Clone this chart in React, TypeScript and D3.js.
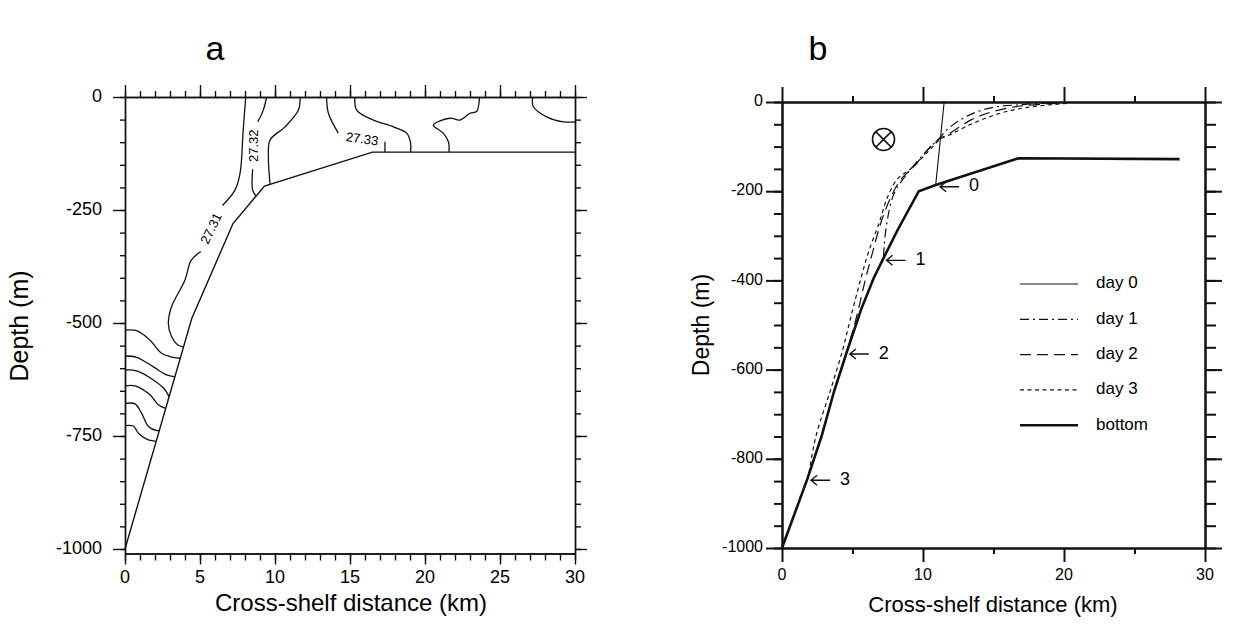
import React, { useEffect, useRef } from 'react'
import * as d3 from 'd3'

// ---- panel a: density section ----
const xTicksA = [0, 5, 10, 15, 20, 25, 30]
const yTicksA = [0, -250, -500, -750, -1000]
const bathyA: [number, number][] = [[0, -1000], [4.45, -490], [7.2, -280], [9.3, -197], [16.5, -122], [30, -122]]

// contour lines (x km, depth m), broken where a label sits
const contoursA: [number, number][][] = [
  [[8.05, 0], [7.88, -73], [7.67, -169], [7.33, -206], [6.5, -240]],
  [[5.05, -342], [4.4, -362], [4.0, -405], [3.1, -464], [2.89, -501], [3.1, -530], [3.5, -548], [3.9, -553]],
  [[9.44, 0], [9.22, -29], [8.85, -55]],
  [[8.51, -160], [8.51, -206], [8.73, -219]],
  [[11.67, 0], [11.56, -29], [10.67, -66], [9.67, -95], [9.56, -132], [9.67, -193]],
  [[13.44, 0], [13.56, -36], [14.22, -80]],
  [[17.33, -99], [17.33, -122]],
  [[15.33, 0], [15.44, -29], [16.56, -51], [17.89, -66], [18.78, -80], [19.04, -102], [19.04, -122]],
  [[21.6, -122], [21.56, -99], [21.22, -80], [20.56, -62], [21.67, -47], [22.33, -51], [23, -36], [23.44, -32], [23.62, -7], [23.62, 0]],
  [[27.18, 0], [27.22, -21], [28.11, -44], [29.22, -55], [30, -55]],
  [[0, -516], [0.78, -517], [1.67, -538], [2.44, -567], [3.22, -576], [3.68, -578]],
  [[0, -573], [0.78, -576], [1.89, -597], [2.78, -615], [3.32, -619]],
  [[0, -604], [0.78, -606], [1.89, -626], [2.6, -645], [2.94, -663]],
  [[0, -639], [0.67, -639], [1.67, -659], [2.22, -681], [2.71, -689]],
  [[0, -678], [0.67, -679], [1.11, -700], [1.56, -729], [2.11, -738], [2.29, -738]],
  [[0, -727], [0.56, -728], [0.89, -744], [1.44, -757], [2.08, -762]],
]
const contourLabels = [
  { text: '27.31', x: 5.8, d: -292, angle: -64 },
  { text: '27.32', x: 8.62, d: -108, angle: -90 },
  { text: '27.33', x: 15.8, d: -95, angle: 8 },
]

// ---- panel b: front positions ----
const xTicksB = [0, 10, 20, 30]
const yTicksB = [0, -200, -400, -600, -800, -1000]
const bottomB: [number, number][] = [[0, -1000], [1.8, -845], [2.8, -750], [3.7, -648], [4.6, -560], [5.6, -466], [6.5, -395], [7.2, -350], [8.2, -287], [9.7, -200], [10.9, -186], [16.8, -126], [28.2, -128]]
const day0: [number, number][] = [[11.5, 0], [10.9, -186]]
const day1: [number, number][] = [[19, -2], [16.9, -6], [14.8, -13], [13.1, -32], [11.7, -62], [11.2, -80], [10.3, -108], [8.9, -160], [7.95, -205], [7.5, -260], [7.25, -320], [7.2, -350]]
const day2: [number, number][] = [[19.5, -3], [16.9, -9], [15, -21], [13.4, -40], [12, -68], [11.2, -82], [10.6, -98], [9.4, -143], [8.4, -175], [7.7, -215], [7.0, -272], [6.4, -340], [5.9, -400], [5.3, -480], [4.6, -560]]
const day3: [number, number][] = [[20.2, -3], [17.4, -12], [15.5, -25], [13.6, -47], [12, -72], [11.2, -84], [10.4, -110], [9.2, -148], [8.2, -172], [7.5, -212], [6.9, -270], [6.1, -340], [5.5, -407], [4.9, -480], [4.3, -556], [3.4, -650], [2.4, -750], [1.85, -845]]
const arrowsB = [
  { label: '0', x: 11.0, d: -190 },
  { label: '1', x: 7.2, d: -355 },
  { label: '2', x: 4.6, d: -565 },
  { label: '3', x: 1.85, d: -848 },
]
const legendB = [
  { name: 'day 0', dash: null, width: 1.2 },
  { name: 'day 1', dash: '9,4,2,4', width: 1.2 },
  { name: 'day 2', dash: '11,6', width: 1.2 },
  { name: 'day 3', dash: '4,3.5', width: 1.2 },
  { name: 'bottom', dash: null, width: 2.6 },
]
const circleB = { x: 7.2, d: -84 }

const fontA = 'Liberation Sans, Arial, Helvetica, sans-serif'
const fontB = 'Liberation Sans Narrow, Liberation Sans, Arial, sans-serif'

export default function App() {
  const ref = useRef<SVGSVGElement>(null)

  useEffect(() => {
    const svg = d3.select(ref.current)
    svg.selectAll('*').remove()
    drawPanelA(svg)
    drawPanelB(svg)
  }, [])

  return (
    <svg ref={ref} width={1250} height={639} style={{ position: 'absolute', left: 0, top: 0, background: '#fff' }} />
  )
}

function drawPanelA(svg: any) {
  const x = d3.scaleLinear().domain([0, 30]).range([125, 575])
  const y = d3.scaleLinear().domain([0, -1010]).range([97, 553.5])
  const g = svg.append('g').attr('font-family', fontA)

  // minor + major ticks on all four sides
  const axes = [
    { ax: d3.axisTop(x).tickValues(d3.range(0, 31, 1)).tickSize(6), t: `translate(0,${y(0)})` },
    { ax: d3.axisTop(x).tickValues(xTicksA).tickSize(12), t: `translate(0,${y(0)})` },
    { ax: d3.axisBottom(x).tickValues(d3.range(0, 31, 1)).tickSize(7), t: `translate(0,${y(-1010)})` },
    { ax: d3.axisBottom(x).tickValues(xTicksA).tickSize(11), t: `translate(0,${y(-1010)})` },
    { ax: d3.axisLeft(y).tickValues(d3.range(0, -1001, -50)).tickSize(5), t: `translate(${x(0)},0)` },
    { ax: d3.axisLeft(y).tickValues(yTicksA).tickSize(12), t: `translate(${x(0)},0)` },
    { ax: d3.axisRight(y).tickValues(d3.range(0, -1001, -50)).tickSize(6), t: `translate(${x(30)},0)` },
    { ax: d3.axisRight(y).tickValues(yTicksA).tickSize(12), t: `translate(${x(30)},0)` },
  ]
  axes.forEach(a => {
    const ag = g.append('g').attr('transform', a.t).call(a.ax.tickSizeOuter(0).tickFormat(() => ''))
    ag.selectAll('path,line').attr('stroke', '#111').attr('stroke-width', 1.4)
  })

  // tick labels
  g.selectAll('.xl').data(xTicksA).enter().append('text')
    .attr('x', (d: number) => x(d)).attr('y', 578)
    .attr('text-anchor', 'middle').attr('dominant-baseline', 'middle')
    .attr('font-size', 18).text((d: number) => d)
  g.selectAll('.yl').data(yTicksA).enter().append('text')
    .attr('x', 102).attr('y', (d: number) => y(d))
    .attr('text-anchor', 'end').attr('dominant-baseline', 'middle')
    .attr('font-size', 18).text((d: number) => d)

  const line = d3.line<[number, number]>().x(d => x(d[0])).y(d => y(d[1])).curve(d3.curveCatmullRom.alpha(0.5))
  const straight = d3.line<[number, number]>().x(d => x(d[0])).y(d => y(d[1]))

  g.append('path').attr('d', straight(bathyA)).attr('fill', 'none').attr('stroke', '#111').attr('stroke-width', 1.4)

  g.selectAll('.ct').data(contoursA).enter().append('path')
    .attr('d', (d: [number, number][]) => line(d))
    .attr('fill', 'none').attr('stroke', '#111').attr('stroke-width', 1.3)

  g.selectAll('.cl').data(contourLabels).enter().append('text')
    .attr('transform', (d: any) => `translate(${x(d.x)},${y(d.d)}) rotate(${d.angle})`)
    .attr('text-anchor', 'middle').attr('dominant-baseline', 'middle')
    .attr('font-size', 13).text((d: any) => d.text)

  // titles
  g.append('text').attr('x', 215).attr('y', 60).attr('text-anchor', 'middle')
    .attr('font-size', 34).text('a')
  g.append('text').attr('x', 351).attr('y', 611).attr('text-anchor', 'middle')
    .attr('font-size', 24).text('Cross-shelf distance (km)')
  g.append('text').attr('transform', 'translate(21,326) rotate(-90)').attr('text-anchor', 'middle')
    .attr('dominant-baseline', 'middle').attr('font-size', 25).text('Depth (m)')
}

function drawPanelB(svg: any) {
  const x = d3.scaleLinear().domain([0, 30]).range([782, 1205])
  const y = d3.scaleLinear().domain([0, -1000]).range([102, 548])
  const g = svg.append('g').attr('font-family', fontB)

  const axes = [
    { ax: d3.axisTop(x).tickValues([5, 15, 25]).tickSize(6), t: `translate(0,${y(0)})` },
    { ax: d3.axisTop(x).tickValues(xTicksB).tickSize(15), t: `translate(0,${y(0)})` },
    { ax: d3.axisBottom(x).tickValues([5, 15, 25]).tickSize(6), t: `translate(0,${y(-1000)})` },
    { ax: d3.axisBottom(x).tickValues(xTicksB).tickSize(14), t: `translate(0,${y(-1000)})` },
    { ax: d3.axisLeft(y).tickValues(d3.range(0, -1001, -50)).tickSize(8), t: `translate(${x(0)},0)` },
    { ax: d3.axisLeft(y).tickValues(yTicksB).tickSize(16), t: `translate(${x(0)},0)` },
    { ax: d3.axisRight(y).tickValues(d3.range(0, -1001, -50)).tickSize(11), t: `translate(${x(30)},0)` },
    { ax: d3.axisRight(y).tickValues(yTicksB).tickSize(17), t: `translate(${x(30)},0)` },
  ]
  axes.forEach(a => {
    const ag = g.append('g').attr('transform', a.t).call(a.ax.tickSizeOuter(0).tickFormat(() => ''))
    ag.selectAll('path,line').attr('stroke', '#111').attr('stroke-width', 2)
  })

  g.selectAll('.xl').data(xTicksB).enter().append('text')
    .attr('x', (d: number) => x(d)).attr('y', 576)
    .attr('text-anchor', 'middle').attr('dominant-baseline', 'middle')
    .attr('font-size', 16).text((d: number) => d)
  g.selectAll('.yl').data(yTicksB).enter().append('text')
    .attr('x', 763).attr('y', (d: number) => y(d))
    .attr('text-anchor', 'end').attr('dominant-baseline', 'middle')
    .attr('font-size', 16).text((d: number) => d)

  const straight = d3.line<[number, number]>().x(d => x(d[0])).y(d => y(d[1]))
  const smooth = d3.line<[number, number]>().x(d => x(d[0])).y(d => y(d[1])).curve(d3.curveCatmullRom.alpha(0.5))

  g.append('path').attr('d', straight(bottomB)).attr('fill', 'none').attr('stroke', '#111').attr('stroke-width', 2.6)
  g.append('path').attr('d', straight(day0)).attr('fill', 'none').attr('stroke', '#111').attr('stroke-width', 1.1)
  const fronts: [[number, number][], string][] = [[day1, '9,4,2,4'], [day2, '11,6'], [day3, '4,3.5']]
  fronts.forEach(([pts, dash]) => {
    g.append('path').attr('d', smooth(pts)).attr('fill', 'none').attr('stroke', '#111')
      .attr('stroke-width', 1.2).attr('stroke-dasharray', dash)
  })

  // into-page flow symbol
  const cx = x(circleB.x), cy = y(circleB.d), r = 11
  g.append('circle').attr('cx', cx).attr('cy', cy).attr('r', r).attr('fill', 'none').attr('stroke', '#111').attr('stroke-width', 1.6)
  const k = r * Math.SQRT1_2
  g.append('path').attr('d', `M${cx - k},${cy - k}L${cx + k},${cy + k}M${cx - k},${cy + k}L${cx + k},${cy - k}`)
    .attr('stroke', '#111').attr('stroke-width', 1.6)

  // arrows pointing at where each front meets the bottom
  arrowsB.forEach(a => {
    const tx = x(a.x) + 3, ty = y(a.d)
    g.append('path').attr('d', `M${tx},${ty}L${tx + 19},${ty}M${tx + 6},${ty - 5}L${tx},${ty}L${tx + 6},${ty + 5}`)
      .attr('fill', 'none').attr('stroke', '#111').attr('stroke-width', 1.4)
    g.append('text').attr('x', tx + 34).attr('y', ty).attr('dominant-baseline', 'middle')
      .attr('text-anchor', 'middle').attr('font-size', 18).text(a.label)
  })

  // legend
  const lg = g.append('g')
  legendB.forEach((l, i) => {
    const ly = 284 + i * 35.3
    const p = lg.append('line').attr('x1', 1020).attr('x2', 1078).attr('y1', ly).attr('y2', ly)
      .attr('stroke', '#111').attr('stroke-width', l.width)
    if (l.dash) p.attr('stroke-dasharray', l.dash)
    lg.append('text').attr('x', 1096).attr('y', ly).attr('dominant-baseline', 'middle')
      .attr('font-size', 17).text(l.name)
  })

  g.append('text').attr('x', 818).attr('y', 60).attr('text-anchor', 'middle')
    .attr('font-size', 34).attr('font-family', fontA).text('b')
  g.append('text').attr('x', 993).attr('y', 612).attr('text-anchor', 'middle')
    .attr('font-size', 22).text('Cross-shelf distance (km)')
  g.append('text').attr('transform', 'translate(703,325) rotate(-90)').attr('text-anchor', 'middle')
    .attr('dominant-baseline', 'middle').attr('font-size', 23).text('Depth (m)')
}
